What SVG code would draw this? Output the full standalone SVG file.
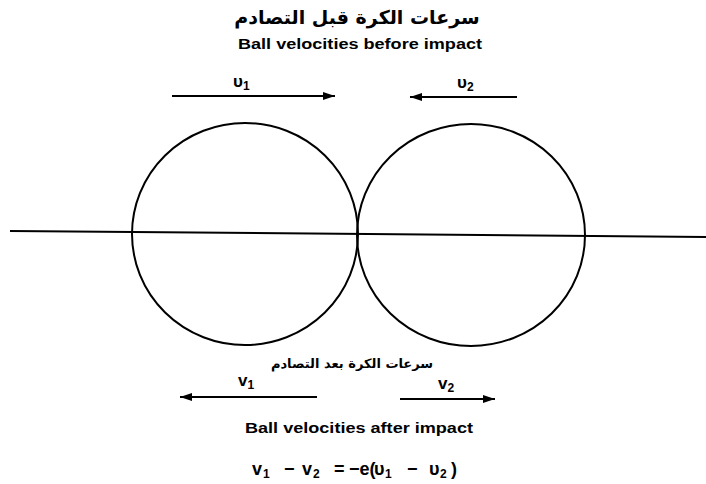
<svg xmlns="http://www.w3.org/2000/svg" width="706" height="484" viewBox="0 0 706 484">
<defs>
<style>
.t{font-family:"Liberation Sans","DejaVu Sans",sans-serif;font-weight:bold;fill:#000}
.ar{font-family:"DejaVu Sans","Noto Sans",sans-serif;font-weight:bold;fill:#000}
.ln{stroke:#000;stroke-width:2;fill:none}
.c{stroke:#000;stroke-width:2;fill:none}
.s{font-size:12px}
</style>
<marker id="ah" viewBox="0 0 12 8" refX="12" refY="4" markerWidth="12" markerHeight="8" markerUnits="userSpaceOnUse" orient="auto">
<path d="M0,0 L12,4 L0,8 Z" fill="#000"/>
</marker>
</defs>
<rect width="706" height="484" fill="#fff"/>
<g id="axis"><line class="ln" x1="10" y1="231" x2="706" y2="237"/></g>
<g id="ball1"><ellipse class="c" cx="245" cy="234" rx="113" ry="111"/></g>
<g id="ball2"><ellipse class="c" cx="471" cy="235" rx="114" ry="111"/></g>
<g id="connectors">
<line class="ln" x1="172" y1="96" x2="335" y2="96" marker-end="url(#ah)"/>
<line class="ln" x1="517" y1="97" x2="410" y2="97" marker-end="url(#ah)"/>
<line class="ln" x1="317" y1="397" x2="180" y2="397" marker-end="url(#ah)"/>
<line class="ln" x1="400" y1="399" x2="495" y2="399" marker-end="url(#ah)"/>
</g>
<g id="titles">
<text class="ar" x="357" y="24" font-size="19" text-anchor="middle" direction="rtl">سرعات الكرة قبل التصادم</text>
<text class="t" x="360" y="49" font-size="14" text-anchor="middle" textLength="244" lengthAdjust="spacingAndGlyphs">Ball velocities before impact</text>
<text class="ar" x="352" y="368" font-size="13" text-anchor="middle" direction="rtl">سرعات الكرة بعد التصادم</text>
<text class="t" x="359" y="433" font-size="15" text-anchor="middle" textLength="228" lengthAdjust="spacingAndGlyphs">Ball velocities after impact</text>
</g>
<g id="labels">
<text class="t" x="233" y="87" font-size="17">υ<tspan class="s" dy="3">1</tspan></text>
<text class="t" x="457" y="88" font-size="17">υ<tspan class="s" dy="3">2</tspan></text>
<text class="t" x="238" y="386" font-size="17">v<tspan class="s" dy="3">1</tspan></text>
<text class="t" x="438" y="389" font-size="17">v<tspan class="s" dy="3">2</tspan></text>
<text class="t" y="475" font-size="18"><tspan x="252" y="475">v</tspan><tspan class="s" x="263" y="478">1</tspan><tspan x="284" y="475">−</tspan><tspan x="302" y="475">v</tspan><tspan class="s" x="313" y="478">2</tspan><tspan x="334" y="475">=</tspan><tspan x="349" y="475">−e(</tspan><tspan x="374" y="475">υ</tspan><tspan class="s" x="385" y="478">1</tspan><tspan x="407" y="475">−</tspan><tspan x="429" y="475">υ</tspan><tspan class="s" x="440" y="478">2</tspan><tspan x="451" y="475">)</tspan></text>
</g>
</svg>
